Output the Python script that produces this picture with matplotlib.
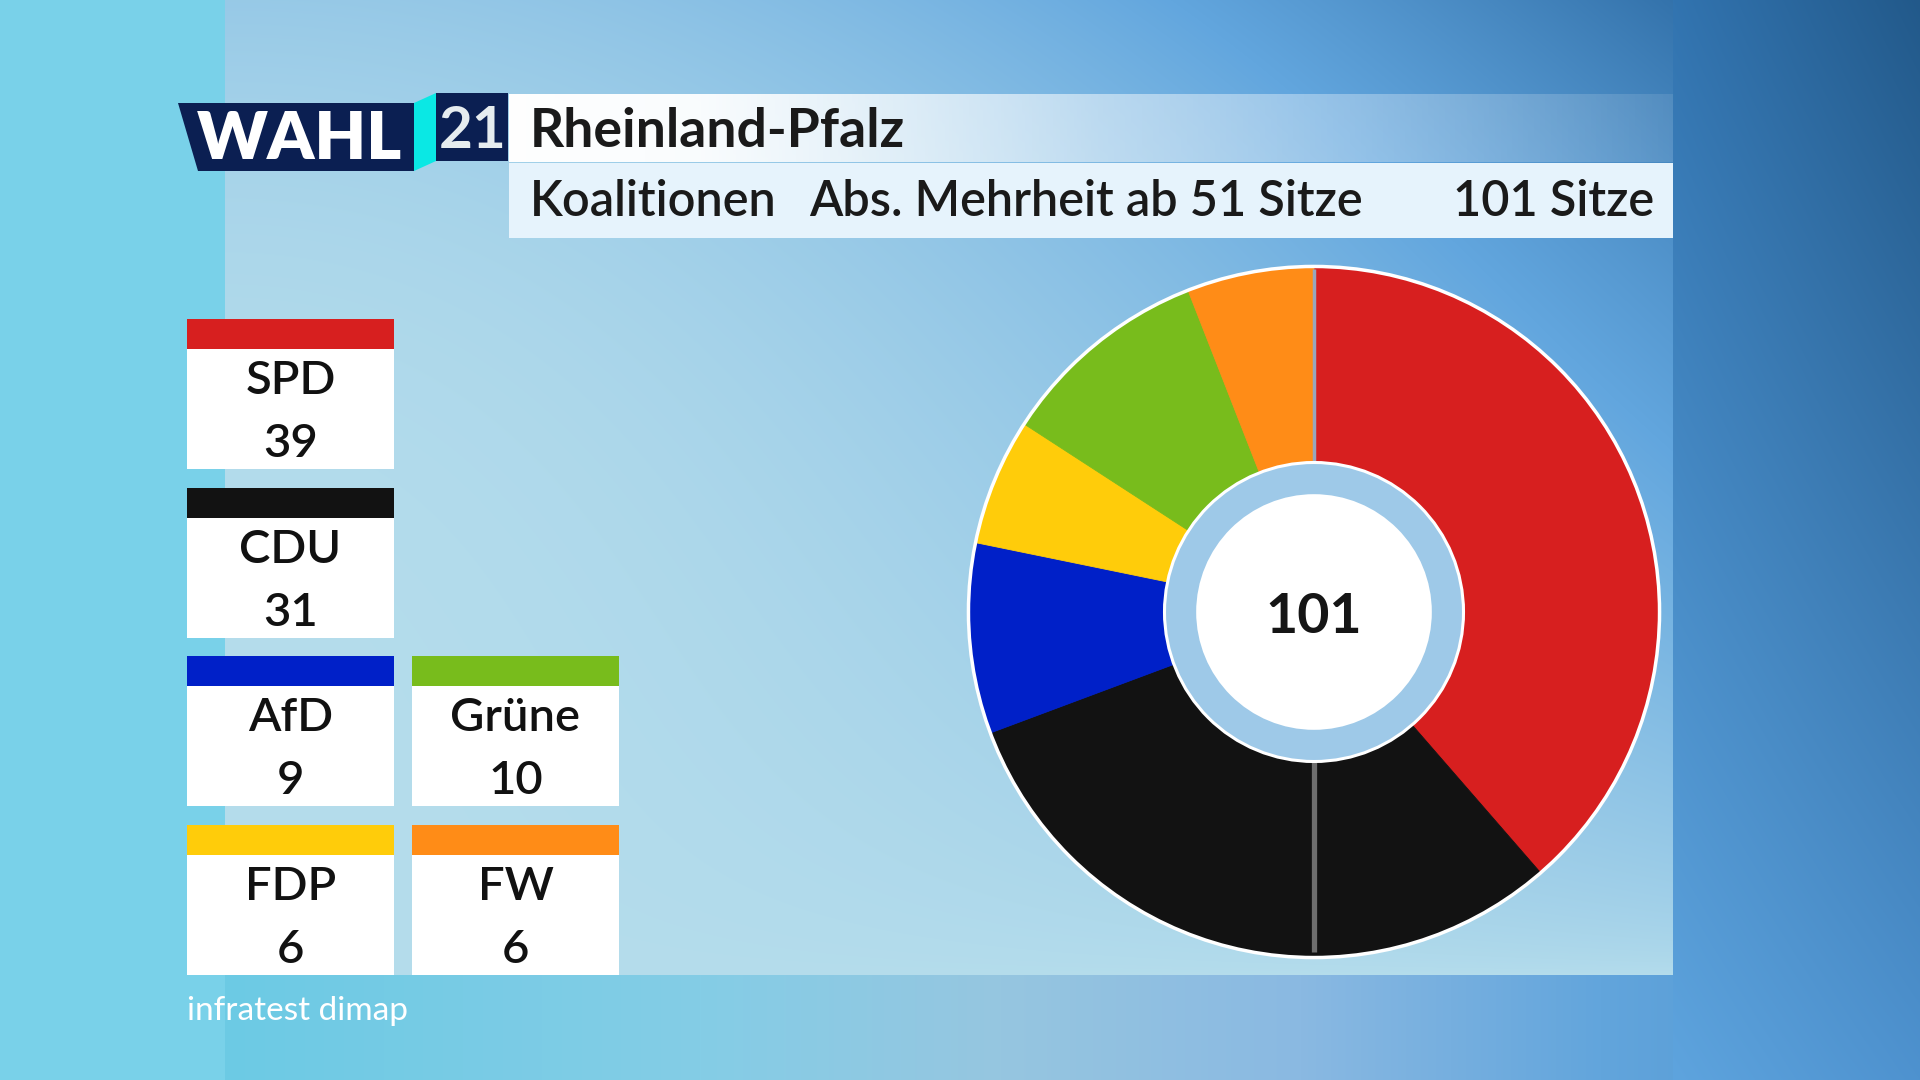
import numpy as np
import matplotlib
matplotlib.use("Agg")
import matplotlib.pyplot as plt
from matplotlib.patches import Rectangle, Polygon, Circle
from matplotlib.colors import to_rgb

plt.rcParams['font.family'] = ['Lato', 'DejaVu Sans']

# --- data -------------------------------------------------------------
parties = ['SPD', 'CDU', 'AfD', 'FDP', 'Grüne', 'FW']
seats = [39, 31, 9, 6, 10, 6]
party_colors = ['#d71f1f', '#121212', '#0020c8', '#ffcc0a', '#78bc1c', '#ff8c17']
total_seats = 101
majority = 51

logo_left = 'WAHL'
logo_right = '21'
state = 'Rheinland-Pfalz'
sub_left = 'Koalitionen'
sub_mid = 'Abs. Mehrheit ab %d Sitze' % majority
sub_right = '%d Sitze' % total_seats
source = 'infratest dimap'

# how the party tiles are arranged on the left
tile_rows = [['SPD'], ['CDU'], ['AfD', 'Grüne'], ['FDP', 'FW']]

W, H = 1920, 1080


def ramp(x, stops, cols):
    cols = np.array([to_rgb(c) for c in cols])
    return np.stack([np.interp(x, stops, cols[:, k]) for k in range(3)], axis=-1)


# --- background -------------------------------------------------------
yy, xx = np.mgrid[0:H, 0:W]
yy = yy.astype(float)
xx = xx.astype(float)
bg = np.zeros((H, W, 3))
bg[:] = to_rgb('#79d1e9')

bottom = ramp(xx, [225, 700, 1000, 1300, 1600, 1920],
              ['#6ccae4', '#84cde6', '#96c6e0', '#8ab9e2', '#62a5dc', '#4f94d0'])
m = (xx >= 225) & (yy >= 975)
bg[m] = bottom[m]

v = (yy / H)[..., None]
right = ramp(xx, [1673, 1920], ['#3274b0', '#22598a']) * (1 - v) + \
    ramp(xx, [1673, 1920], ['#5ea4de', '#4e92cf']) * v
m = xx >= 1673
bg[m] = right[m]

u = np.clip((xx - 225) / 1448, 0, 1)
vp = np.clip(yy / 975, 0, 1)
t = np.clip(0.18 * (1 - vp) ** 4 + 0.75 * u ** 2 * (1 - vp) ** 0.7, 0, 1)
panel = ramp(t, [0, 0.5, 1], ['#b5ddec', '#62a6de', '#2c6aa3'])
m = (xx >= 225) & (xx < 1673) & (yy < 975)
bg[m] = panel[m]

fig = plt.figure(figsize=(19.2, 10.8), dpi=100)
ax = fig.add_axes([0, 0, 1, 1])
ax.imshow(bg, extent=(0, W, H, 0), interpolation='bilinear', zorder=0)

# --- header -----------------------------------------------------------
navy = '#0b1f52'
ax.add_patch(Polygon([(178, 103), (416, 103), (414, 171), (198, 171)], closed=True,
                     fc=navy, ec='none', zorder=2))
ax.add_patch(Polygon([(414, 103), (436, 93), (436, 161), (414, 171)], closed=True,
                     fc='#0ae8e4', ec='none', zorder=2))
ax.add_patch(Rectangle((436, 93), 72, 68, fc=navy, ec='none', zorder=2))
ax.text(299, 159, logo_left, color='white', fontsize=48, fontweight='heavy',
        ha='center', va='baseline', zorder=3)
ax.text(473, 148, logo_right, color='#e6ecef', fontsize=42, fontweight='bold',
        ha='center', va='baseline', zorder=3)

# title bar fading from white to transparent
bar_x = np.linspace(509, 1673, 400)
alpha = np.interp(bar_x, [509, 700, 1100, 1673], [1.0, 0.95, 0.5, 0.1])
bar = np.ones((1, len(bar_x), 4))
bar[0, :, 3] = alpha
ax.imshow(bar, extent=(509, 1673, 162, 94), aspect='auto', zorder=1)
ax.add_patch(Rectangle((509, 163), 1164, 75, fc='#e6f3fc', ec='none', zorder=1))

ax.text(530, 147, state, color='#1a1a1a', fontsize=38.5, fontweight='bold',
        ha='left', va='baseline', zorder=3)
ax.text(530, 216, sub_left, color='#1a1a1a', fontsize=35, fontweight='semibold',
        ha='left', va='baseline', zorder=3)
ax.text(809, 216, sub_mid, color='#1a1a1a', fontsize=35, fontweight='semibold',
        ha='left', va='baseline', zorder=3)
ax.text(1654, 216, sub_right, color='#1a1a1a', fontsize=35, fontweight='semibold',
        ha='right', va='baseline', zorder=3)

# --- party tiles ------------------------------------------------------
for r, row in enumerate(tile_rows):
    top = 319 + r * 168.7
    for c, name in enumerate(row):
        i = parties.index(name)
        x0 = 187 + c * 225
        ax.add_patch(Rectangle((x0, top), 207, 30, fc=party_colors[i], ec='none', zorder=2))
        ax.add_patch(Rectangle((x0, top + 30), 207, 120, fc='white', ec='none', zorder=2))
        ax.text(x0 + 103.5, top + 75, name, color='#111111', fontsize=34,
                fontweight='semibold', ha='center', va='baseline', zorder=3)
        ax.text(x0 + 103.5, top + 138, str(seats[i]), color='#111111', fontsize=34,
                fontweight='semibold', ha='center', va='baseline', zorder=3)

ax.text(187, 1020, source, color='white', fontsize=24,
        ha='left', va='baseline', zorder=3)

ax.set_xlim(0, W)
ax.set_ylim(H, 0)
ax.axis('off')

# --- donut ------------------------------------------------------------
cx, cy, R = 1314, 612, 349
r_ring = 151 / R
r_hole = 119 / R
ax2 = fig.add_axes([(cx - R) / W, 1 - (cy + R) / H, 2 * R / W, 2 * R / H])
wedges, _ = ax2.pie(seats, colors=party_colors, startangle=90, counterclock=False,
                    radius=1, wedgeprops=dict(width=1 - r_ring, linewidth=0))
for w in wedges:
    w.set_edgecolor(w.get_facecolor())
    w.set_linewidth(0.6)

ax2.add_patch(Circle((0, 0), 1.0, fill=False, ec='white', lw=2.5, zorder=5))
ax2.add_patch(Circle((0, 0), r_ring, fc='#9ec9e8', ec='white', lw=2.2, zorder=5))
ax2.add_patch(Circle((0, 0), r_hole, fc='white', ec='none', zorder=6))

# start line and the line at half of all seats
a0 = np.deg2rad(90)
ax2.plot([r_ring * np.cos(a0), 0.993 * np.cos(a0)], [r_ring * np.sin(a0), 0.993 * np.sin(a0)],
         color='#98a6bd', lw=2.5, zorder=4, solid_capstyle='butt')
a_half = np.deg2rad(90 - 360 * (total_seats / 2) / total_seats)
ax2.plot([r_ring * np.cos(a_half), 0.985 * np.cos(a_half)],
         [r_ring * np.sin(a_half), 0.985 * np.sin(a_half)],
         color='#6e6e6e', lw=3.8, zorder=4, solid_capstyle='butt')

ax2.text(0, -0.06, str(total_seats), color='#151515', fontsize=40, fontweight='bold',
         ha='center', va='baseline', zorder=7)
ax2.set_xlim(-1.01, 1.01)
ax2.set_ylim(-1.01, 1.01)
ax2.set_aspect('equal')
ax2.axis('off')

fig.savefig('out.png', dpi=100)
